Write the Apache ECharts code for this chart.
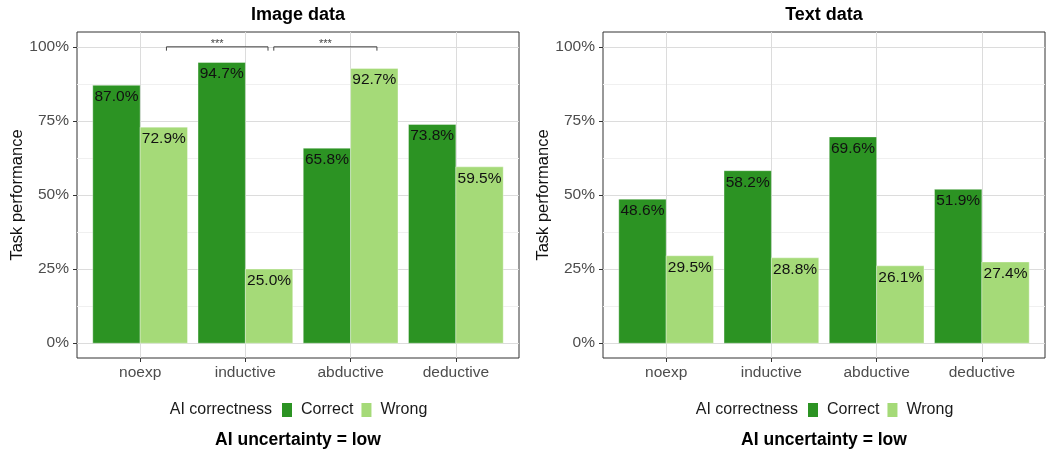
<!DOCTYPE html>
<html>
<head>
<meta charset="utf-8">
<title>Task performance by AI correctness</title>
<script src="https://cdn.jsdelivr.net/npm/echarts@6/dist/echarts.min.js"></script>
<style>
  html, body { margin: 0; padding: 0; background: #ffffff; }
  #chart { width: 1049px; height: 454px; }
</style>
</head>
<body>
<div id="chart"></div>
<script>
// ---- data ----
const categories = ['noexp', 'inductive', 'abductive', 'deductive'];
const groups = ['Correct', 'Wrong'];
const panelTitles = ['Image data', 'Text data'];

const imageCorrect = [87.0, 94.7, 65.8, 73.8];
const imageWrong   = [72.9, 25.0, 92.7, 59.5];
const textCorrect  = [48.6, 58.2, 69.6, 51.9];
const textWrong    = [29.5, 28.8, 26.1, 27.4];

const yTicks = [0, 25, 50, 75, 100];
const yMinorTicks = [12.5, 37.5, 62.5, 87.5];

// significance brackets on the image panel (x in category units, y in %)
const imageBrackets = [
  { from: 1.25, to: 2.215, y: 100, label: '***' },
  { from: 2.27, to: 3.25,  y: 100, label: '***' }
];

const legendTitle = 'AI correctness';
const facetCaption = 'AI uncertainty = low';
const yAxisTitle = 'Task performance';

// ---- style ----
const COLORS = { Correct: '#2c9323', Wrong: '#a5da78' };
const FONT = '"Liberation Sans", Arial, Helvetica, sans-serif';
const BAR_W = 0.45;           // width of one dodged bar, in category units
const DODGE = 0.225;          // centre offset of each dodged bar

const panels = [
  { values: { Correct: imageCorrect, Wrong: imageWrong }, brackets: imageBrackets, left: 77 },
  { values: { Correct: textCorrect,  Wrong: textWrong },  brackets: [],            left: 603 }
];
const PANEL_W = 442, PANEL_TOP = 32, PANEL_H = 326;

function renderBar(params, api) {
  const xc = api.value(0), v = api.value(1);
  const tl = api.coord([xc - BAR_W / 2, v]);
  const br = api.coord([xc + BAR_W / 2, 0]);
  return {
    type: 'rect',
    shape: { x: tl[0], y: tl[1], width: br[0] - tl[0], height: br[1] - tl[1] },
    style: { fill: api.visual('color'), stroke: 'rgba(255,255,255,0.45)', lineWidth: 0.8 },
    textContent: {
      style: { text: v.toFixed(1) + '%', fill: '#111111', fontSize: 15.5, fontFamily: FONT }
    },
    textConfig: { position: 'insideTop', distance: 4 }
  };
}

function renderBracket(params, api) {
  const x0 = api.value(0), x1 = api.value(1), y = api.value(2);
  const a = api.coord([x0, y]);
  const b = api.coord([x1, y]);
  const tip = api.coord([x0, y - 1.3])[1];
  const lab = imageBrackets[params.dataIndex].label;
  return {
    type: 'group',
    children: [
      {
        type: 'polyline',
        shape: { points: [[a[0], tip], [a[0], a[1]], [b[0], b[1]], [b[0], tip]] },
        style: { stroke: '#444444', lineWidth: 1, fill: null }
      },
      {
        type: 'text',
        style: {
          x: (a[0] + b[0]) / 2, y: a[1] - 3, text: lab,
          fill: '#444444', fontSize: 11, fontFamily: FONT,
          align: 'center', verticalAlign: 'middle'
        }
      }
    ]
  };
}

const grid = [], xAxis = [], yAxis = [], series = [], legend = [], graphic = [];

panels.forEach((p, i) => {
  grid.push({
    left: p.left, top: PANEL_TOP, width: PANEL_W, height: PANEL_H,
    show: true, borderColor: '#333333', borderWidth: 1, backgroundColor: 'transparent'
  });
  xAxis.push({
    type: 'value', gridIndex: i, min: 0.4, max: 4.6,
    axisLine: { show: false, onZero: false },
    axisTick: { show: true, customValues: [1, 2, 3, 4], length: 4, lineStyle: { color: '#333333', width: 1 } },
    axisLabel: {
      customValues: [1, 2, 3, 4], margin: 7,
      formatter: v => categories[Math.round(v) - 1] || '',
      color: '#4d4d4d', fontSize: 15.5, fontFamily: FONT
    },
    splitLine: { show: true, lineStyle: { color: '#dcdcdc', width: 1 } }
  });
  // major y axis: labels, ticks and major grid
  yAxis.push({
    type: 'value', gridIndex: i, min: -5, max: 105,
    name: yAxisTitle, nameLocation: 'middle', nameGap: 50, nameRotate: 90,
    nameTextStyle: { color: '#111111', fontSize: 16.5, fontFamily: FONT },
    axisLine: { show: false, onZero: false },
    axisTick: { show: true, customValues: yTicks, length: 4, lineStyle: { color: '#333333', width: 1 } },
    axisLabel: {
      customValues: yTicks, margin: 8,
      formatter: v => v + '%',
      color: '#4d4d4d', fontSize: 15.5, fontFamily: FONT
    },
    splitLine: { show: true, lineStyle: { color: '#dcdcdc', width: 1 } }
  });
  // minor y grid
  yAxis.push({
    type: 'value', gridIndex: i, min: -5, max: 105, position: 'left',
    axisLine: { show: false, onZero: false },
    axisTick: { show: false, customValues: yMinorTicks },
    axisLabel: { show: false },
    splitLine: { show: true, lineStyle: { color: '#f0f0f0', width: 1 } }
  });

  groups.forEach((g, gi) => {
    const offset = gi === 0 ? -DODGE : DODGE;
    series.push({
      type: 'custom', name: g,
      xAxisIndex: i, yAxisIndex: i * 2,
      itemStyle: { color: COLORS[g] },
      renderItem: renderBar,
      encode: { x: 0, y: 1 },
      data: p.values[g].map((v, ci) => [ci + 1 + offset, v]),
      z: 3
    });
  });

  if (p.brackets.length) {
    series.push({
      type: 'custom', name: 'significance',
      xAxisIndex: i, yAxisIndex: i * 2,
      renderItem: renderBracket,
      encode: { x: [0, 1], y: 2 },
      data: p.brackets.map(b => [b.from, b.to, b.y]),
      clip: false, silent: true, z: 4
    });
  }

  const cx = p.left + PANEL_W / 2;
  legend.push({
    data: groups.map(g => ({ name: g, icon: 'rect' })),
    left: p.left + 205, top: 402, padding: 0,
    itemWidth: 10, itemHeight: 14, itemGap: 8,
    textStyle: { color: '#1a1a1a', fontSize: 16, fontFamily: FONT, padding: [0, 0, 0, 4] },
    selectedMode: false
  });
  graphic.push(
    {
      type: 'text', x: cx, y: 15,
      style: { text: panelTitles[i], fill: '#000000', fontSize: 18, fontWeight: 'bold', fontFamily: FONT, align: 'center', verticalAlign: 'middle' }
    },
    {
      type: 'text', x: p.left + 195, y: 410,
      style: { text: legendTitle, fill: '#1a1a1a', fontSize: 16, fontFamily: FONT, align: 'right', verticalAlign: 'middle' }
    },
    {
      type: 'text', x: cx, y: 440,
      style: { text: facetCaption, fill: '#000000', fontSize: 17.5, fontWeight: 'bold', fontFamily: FONT, align: 'center', verticalAlign: 'middle' }
    }
  );
});

const chart = echarts.init(document.getElementById('chart'), null, { renderer: 'canvas' });
chart.setOption({
  animation: false,
  backgroundColor: '#ffffff',
  grid, xAxis, yAxis, series, legend, graphic
});
</script>
</body>
</html>
